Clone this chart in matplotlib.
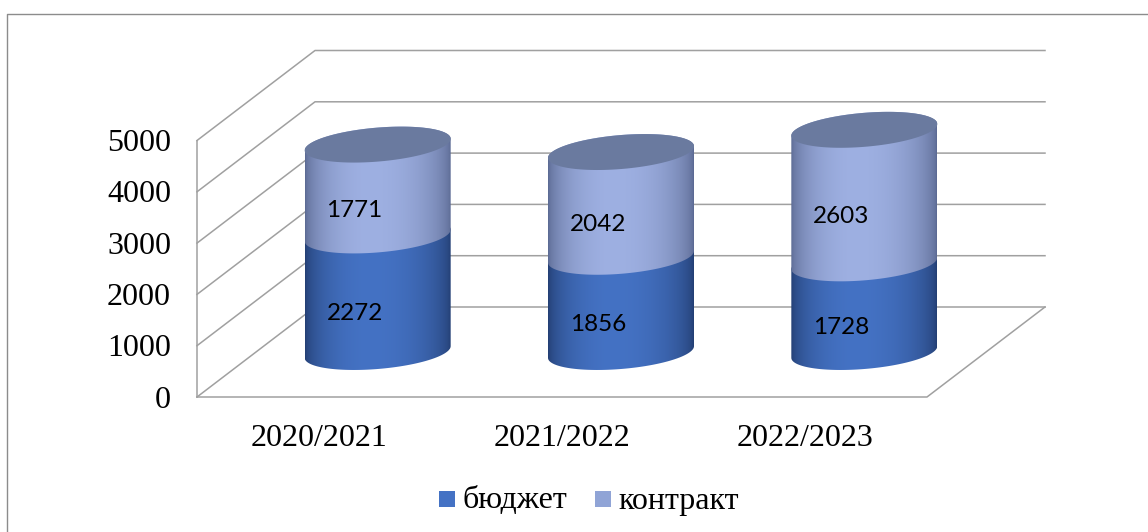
import numpy as np
import matplotlib.pyplot as plt
from matplotlib.patches import Polygon, Rectangle

# data
years = ['2020/2021', '2021/2022', '2022/2023']
budget = [2272, 1856, 1728]
contract = [1771, 2042, 2603]
series_names = ['бюджет', 'контракт']
yticks = [0, 1000, 2000, 3000, 4000, 5000]

# layout of the fake 3d box (pixels of the 1148x532 picture)
FX0 = 197      # front left corner of floor
FX1 = 927      # front right corner of floor
FY0 = 397      # front floor line
DX = 118       # depth offset
DY = 90
SC = 0.0513    # pixels per unit
RAD = 73       # cylinder half width
EB = 17        # ellipse half height
SHEAR = 0.08   # ellipse tilt

GRID = '#a0a0a0'
serif = ['Liberation Serif', 'DejaVu Serif']
sans = ['Lato', 'DejaVu Sans']


def front(x, v):
    return x, FY0 - v*SC


def cyl_outline(cx, cy, t):
    x = cx + RAD*np.cos(t)
    y = cy + EB*np.sin(t) - SHEAR*RAD*np.cos(t)
    return np.column_stack([x, y])


def shade(edge, center, n=200):
    edge = np.array(plt.matplotlib.colors.to_rgb(edge))
    center = np.array(plt.matplotlib.colors.to_rgb(center))
    u = np.linspace(0, 1, n)
    w = np.where(u < 0.45, 1-((u-0.45)/0.45)**2, 1-((u-0.45)/0.55)**2)
    w = np.clip(w, 0, 1)**0.6
    img = edge[None, :] + (center-edge)[None, :]*w[:, None]
    return img[None, :, :]


def cylinder_part(ax, cx, ybot, ytop, edge, center):
    t1 = np.linspace(np.pi, 0, 80)
    t2 = np.linspace(0, -np.pi, 80)
    pts = np.vstack([cyl_outline(cx, ybot, t1), cyl_outline(cx, ytop, t2)])
    poly = Polygon(pts, closed=True, facecolor='none', edgecolor='none')
    ax.add_patch(poly)
    im = ax.imshow(shade(edge, center), extent=[cx-RAD, cx+RAD, ybot+EB+10, ytop-EB-10],
                   aspect='auto', interpolation='bilinear', zorder=3)
    im.set_clip_path(poly)


fig = plt.figure(figsize=(11.48, 5.32), dpi=100)
ax = fig.add_axes([0, 0, 1, 1])
ax.set_axis_off()

# back wall + left wall lines
for v in yticks:
    x0, y0 = front(FX0, v)
    ax.plot([x0, x0+DX, FX1+DX], [y0, y0-DY, y0-DY], color=GRID, lw=1.1, zorder=1)
# floor and left edge
ax.plot([FX0, FX1, FX1+DX], [FY0, FY0, FY0-DY], color=GRID, lw=1.1, zorder=1)
ax.plot([FX0, FX0], [FY0, FY0-5000*SC], color=GRID, lw=1.1, zorder=1)

# cylinders
step = (FX1-FX0)/len(years)
for i in range(len(years)):
    cx = FX0 + (i+0.5)*step + DX/2
    base = FY0 - DY/2
    y1 = base - budget[i]*SC
    y2 = y1 - contract[i]*SC
    cylinder_part(ax, cx, base, y1, '#233e72', '#4472c4')
    cylinder_part(ax, cx, y1, y2, '#5b6992', '#9eb0e2')
    top = Polygon(cyl_outline(cx, y2, np.linspace(0, 2*np.pi, 120)), closed=True,
                  facecolor='#6a7a9f', edgecolor='none', zorder=4)
    ax.add_patch(top)
    # value labels
    ax.text(cx-23, base - budget[i]*SC/2 + 20, str(budget[i]), fontsize=17.5,
            family=sans, ha='center', va='center', zorder=5)
    ax.text(cx-23, y1 - contract[i]*SC/2 + 20, str(contract[i]), fontsize=17.5,
            family=sans, ha='center', va='center', zorder=5)
    # category labels
    ax.text(FX0 + (i+0.5)*step, 438, years[i], fontsize=23, family=serif,
            ha='center', va='center')

# y labels
for v in yticks:
    ax.text(171, FY0 - v*SC + 3, str(v), fontsize=23, family=serif, ha='right', va='center')

# legend
ax.add_patch(Rectangle((439, 491), 16, 16, facecolor='#4472c4', edgecolor='none'))
ax.text(463, 501, series_names[0], fontsize=23, family=serif, va='center')
ax.add_patch(Rectangle((595, 491), 16, 16, facecolor='#90a4d6', edgecolor='none'))
ax.text(618, 501, series_names[1], fontsize=23, family=serif, va='center')

# outer frame
ax.plot([7, 7, 1160], [540, 14, 14], color='#8c8c8c', lw=1.0, clip_on=False)

ax.set_xlim(0, 1148)
ax.set_ylim(532, 0)
fig.savefig('out.png', dpi=100)
